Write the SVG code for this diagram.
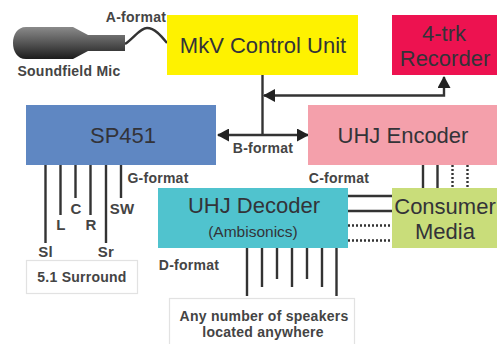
<svg xmlns="http://www.w3.org/2000/svg" width="497" height="344" viewBox="0 0 497 344">
<style>
.n{font-family:"Liberation Sans",Arial,sans-serif;font-size:22px;fill:#333338;text-anchor:middle}
.l{font-family:"Liberation Sans",Arial,sans-serif;font-size:14px;font-weight:bold;fill:#444;text-anchor:middle;letter-spacing:.25px}
.s{font-size:15px}
.c{stroke:#333;stroke-width:2.4;fill:none}
.d{stroke:#333;stroke-width:2.4;fill:none;stroke-dasharray:2 2}
.w{fill:#fff;stroke:#e2e2e2;stroke-width:1.2}
</style>
<defs>
<linearGradient id="mic" x1="0" y1="0" x2="0" y2="1"><stop offset="0" stop-color="#8a8a8a"/><stop offset=".5" stop-color="#555"/><stop offset="1" stop-color="#1c1c1c"/></linearGradient>
<marker id="a" markerWidth="12" markerHeight="13" refX="11" refY="6.500" orient="auto-start-reverse" markerUnits="userSpaceOnUse" viewBox="0 0 12 13"><path d="M0 0L12 6.500L0 13z" fill="#222"/></marker>
</defs>
<rect width="497" height="344" fill="#fff"/>
<g id="connectors">
<path class="c" d="M125 44C134 38 140 28 147 28C155 28 162 37 167 43"/>
<path class="c" d="M262.500 75V135"/>
<path class="c" d="M218 135H308" marker-start="url(#a)" marker-end="url(#a)"/>
<path class="c" d="M264 95.500H444V77" marker-start="url(#a)" marker-end="url(#a)"/>
<path class="c" d="M45.500 165V243M60.500 165V215M75.500 165V198M90.500 165V215M106 165V243M121 165V198"/>
<path class="c" d="M423 165V188M437.500 165V188"/>
<path class="d" d="M452.500 165V188M467.500 165V188"/>
<path class="c" d="M348 196H392M348 211H392"/>
<path class="d" d="M348 225.500H392M348 240.500H392"/>
<path class="c" d="M247 248V296M262 248V287M277 248V279M292 248V287M307 248V279M322 248V287M336.500 248V296"/>
</g>
<g id="mic"><path d="M125 35H88L73 27H26C17 27 13 35 13 43C13 51 17 59 26 59H73L88 51H125z" fill="url(#mic)"/><text class="l" x="69" y="76">Soundfield Mic</text></g>
<text class="l" x="136" y="22">A-format</text>
<g id="control"><rect x="167" y="15" width="191" height="60" fill="#fef200"/><text class="n" x="263" y="53">MkV Control Unit</text></g>
<g id="recorder"><rect x="392" y="15" width="105" height="60" fill="#ed1250"/><text class="n" x="444" y="41">4-trk</text><text class="n" x="445" y="66">Recorder</text></g>
<g id="sp451"><rect x="26" y="105" width="190" height="60" fill="#5f87c2"/><text class="n" x="123" y="143">SP451</text></g>
<g id="encoder"><rect x="308" y="105" width="189" height="60" fill="#f4a0ab"/><text class="n" x="403" y="143">UHJ Encoder</text></g>
<g id="decoder"><rect x="158" y="188" width="190" height="60" fill="#50c3ce"/><text class="n" x="254" y="213">UHJ Decoder</text><text class="n" x="253" y="237" style="font-size:15.500px">(Ambisonics)</text></g>
<g id="media"><rect x="392" y="188" width="105" height="60" fill="#c9dd7a"/><text class="n" x="445" y="214">Consumer</text><text class="n" x="445" y="239">Media</text></g>
<g id="surround"><rect class="w" x="26.500" y="260.500" width="111" height="33"/><text class="l" x="82" y="282">5.1 Surround</text></g>
<g id="speakers"><rect class="w" x="169.500" y="298.500" width="185" height="50"/><text class="l" x="264" y="321">Any number of speakers</text><text class="l" x="263" y="337">located anywhere</text></g>
<g id="labels">
<text class="l" x="263" y="153">B-format</text>
<text class="l" x="158" y="183">G-format</text>
<text class="l" x="339" y="183">C-format</text>
<text class="l" x="189" y="270">D-format</text>
<text class="l s" x="45.500" y="257">Sl</text>
<text class="l s" x="61" y="230">L</text>
<text class="l s" x="76" y="214">C</text>
<text class="l s" x="91" y="230">R</text>
<text class="l s" x="106" y="257">Sr</text>
<text class="l s" x="122" y="214">SW</text>
</g>
</svg>
